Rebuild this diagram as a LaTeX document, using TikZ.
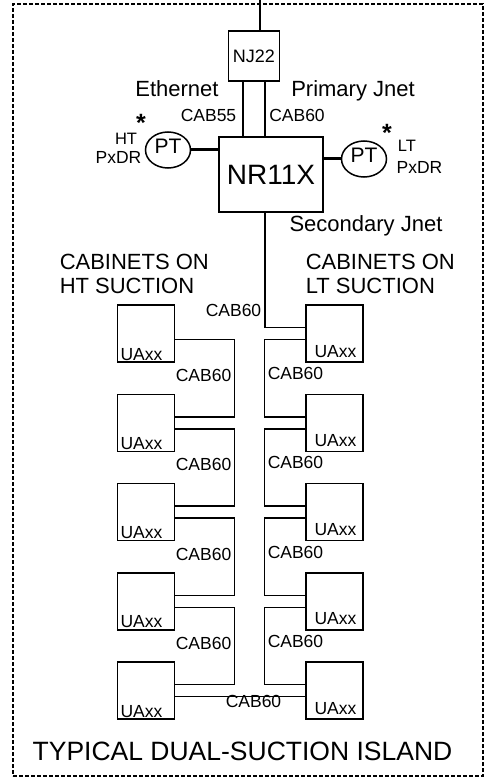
\documentclass[tikz,border=0pt]{standalone}
\usepackage{fontspec}
\setmainfont{Liberation Sans}
\usetikzlibrary{positioning,shapes.geometric}

\begin{document}
\begin{tikzpicture}[x=1pt,y=-1pt,line width=1.5pt]
    \tikzset{
      box/.style={draw,rectangle,inner sep=0pt},
      cab/.style={box,minimum width=57pt,minimum height=57pt},
      txt/.style={inner sep=0pt,text height=0.716em,text depth=0pt},
      big/.style={txt,font=\fontsize{22}{24}\selectfont},
      small/.style={txt,font=\fontsize{17.5}{18}\selectfont},
      star/.style={inner sep=0pt,font=\bfseries\fontsize{25}{25}\selectfont},
      pt/.style={draw,ellipse,txt,minimum width=45pt,minimum height=36pt,
                 font=\fontsize{21}{21}\selectfont},
      wire/.style={line width=1.5pt},
      pipe/.style={line width=3pt},
      frame/.style={draw,dash pattern=on 4pt off 2pt,line width=1.2pt,
                    minimum width=470pt,minimum height=772pt}}
    \useasboundingbox (0,0) rectangle (488,778);
    \node[frame] (island) at (248,390) {};
    % controller and hub
    \node[box,minimum width=51pt,minimum height=50pt,font=\fontsize{18}{18}\selectfont] (nj22) at (254,56) {NJ22};
    \node[box,minimum width=104pt,minimum height=75pt,font=\fontsize{28}{28}\selectfont] (nr) at (271,174.5) {NR11X};
    \node[pt] (ptl) at (168,150) {PT};
    \node[pt] (ptr) at (364,159) {PT};
    \coordinate (feed) at (260,0);
    \draw[wire] (feed) -- ([xshift=6pt]nj22.north);
    \draw[wire] ([xshift=-11pt]nj22.south) -- ([xshift=-11pt]nj22.south |- nr.north);
    \draw[wire] ([xshift=11pt]nj22.south) -- ([xshift=11pt]nj22.south |- nr.north);
    \draw[pipe] (ptl.east) -- (ptl.east -| nr.west);
    \draw[pipe] (ptr.west) -- (ptr.west -| nr.east);
    % labels round the controller
    \node[big] (eth) at (177,93) {Ethernet};
    \node[big] (pjn) at (353,93) {Primary Jnet};
    \node[small] (c55) at (208.5,118) {CAB55};
    \node[small] (c60p) at (297,118) {CAB60};
    \node[star] (astl) at (141,123) {*};
    \node[star] (astr) at (387,133) {*};
    \node[small,font=\fontsize{16.5}{17}\selectfont] (ht) at (126,141) {HT};
    \node[small] (pxl) at (118.5,160) {PxDR};
    \node[small,font=\fontsize{16.5}{17}\selectfont] (lt) at (407,148) {LT};
    \node[small] (pxr) at (419.5,170) {PxDR};
    \node[big] (sjn) at (366,228) {Secondary Jnet};
    \node[big,align=left,anchor=south west] (hts) at (59,294) {CABINETS ON\\HT SUCTION};
    \node[big,align=left,anchor=south west] (lts) at (305,294) {CABINETS ON\\LT SUCTION};
    % cabinets
    \foreach \i in {1,...,5}{
      \node[cab] (cl\i) at (146,{333.5+89.25*(\i-1)}) {};
      \node[cab] (cr\i) at (334.5,{333.5+89.25*(\i-1)}) {};
      \node[small,anchor=south west] (ul\i) at ([shift={(3pt,2pt)}]cl\i.south west) {UAxx};
      \node[small,anchor=south] (ur\i) at ([shift={(1pt,5pt)}]cr\i.south) {UAxx};
    }
    \foreach \i/\j in {1/2,2/3,3/4,4/5}{
      \draw[wire] ([yshift=-6pt]cl\i.east) -- ++(59,0) |- ([yshift=6pt]cl\j.east);
      \draw[wire] ([yshift=-6pt]cr\i.west) -- ++(-41,0) |- ([yshift=6pt]cr\j.west);
      \node[small,anchor=east] (kl\i) at (232,{378+89.25*(\i-1)}) {CAB60};
      \node[small,anchor=west] (kr\i) at (267,{376+89.25*(\i-1)}) {CAB60};
    }
    \draw[wire] ([xshift=-6pt]nr.south) |- ([yshift=6pt]cr1.west);
    \draw[wire] ([yshift=-6pt]cl5.east) -- ([yshift=-6pt]cr5.west);
    \node[small] (c60s) at (233.5,313) {CAB60};
    \node[small] (c60b) at (253.5,704) {CAB60};
    \node[txt,font=\fontsize{26.5}{27}\selectfont] (title) at (242.5,757) {TYPICAL DUAL-SUCTION ISLAND};
  \end{tikzpicture}
\end{document}
